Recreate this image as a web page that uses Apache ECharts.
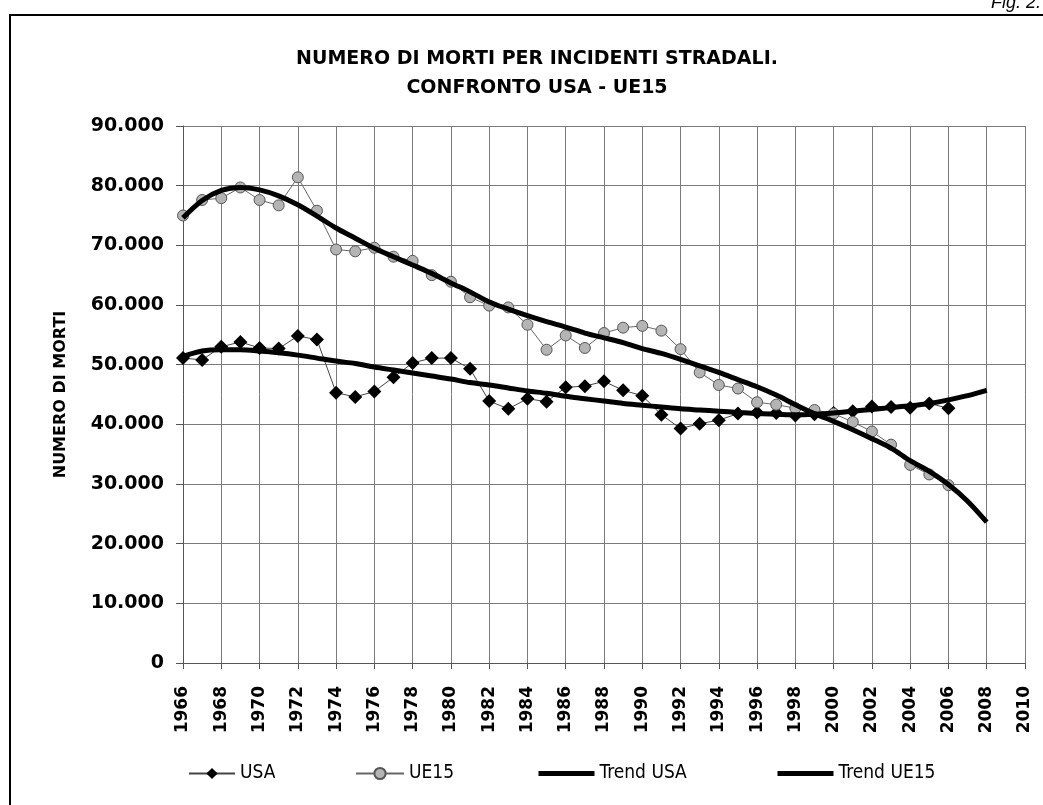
<!DOCTYPE html>
<html>
<head>
<meta charset="utf-8">
<script src="https://cdn.jsdelivr.net/npm/echarts@6/dist/echarts.min.js"></script>
<style>
  html, body { margin: 0; padding: 0; background: #fff; }
  #chartDom { width: 1043px; height: 805px; }
</style>
</head>
<body>
<div id="chartDom"></div>
<script>
// anni e valori
var years = [];
for (var y = 1966; y <= 2006; y++) years.push(y);
var trendYears = [];
for (var t = 1966; t <= 2008; t++) trendYears.push(t);

var usa = [51100, 50800, 53000, 53800, 52800, 52700, 54800, 54200, 45300, 44600,
  45500, 47900, 50300, 51100, 51100, 49300, 43900, 42600, 44300, 43800,
  46200, 46400, 47200, 45700, 44800, 41600, 39300, 40100, 40700, 41800,
  42000, 41900, 41500, 41700, 41900, 42200, 43000, 42900, 42800, 43500, 42700];

var ue15 = [75000, 77600, 77900, 79700, 77600, 76700, 81400, 75800, 69300, 69000,
  69600, 68100, 67400, 65000, 63900, 61300, 59900, 59600, 56700, 52500,
  54900, 52800, 55300, 56200, 56500, 55700, 52600, 48700, 46600, 46000,
  43700, 43300, 42700, 42400, 41800, 40400, 38800, 36600, 33200, 31600, 29800];

var trendUsa = [51400, 52300, 52500, 52500, 52300, 52000, 51600, 51100, 50600, 50200,
  49600, 49100, 48600, 48100, 47600, 47000, 46600, 46100, 45600, 45200,
  44700, 44300, 43900, 43500, 43200, 42900, 42600, 42400, 42200, 42000,
  41800, 41700, 41600, 41700, 41900, 42200, 42500, 42800, 43100, 43500,
  44100, 44800, 45700];

var trendUe15 = [74600, 77500, 79200, 79700, 79300, 78300, 76800, 74900, 72900, 71200,
  69500, 68100, 66700, 65300, 63700, 62200, 60500, 59300, 58200, 57200,
  56300, 55300, 54500, 53700, 52700, 51900, 50900, 49800, 48700, 47500,
  46300, 44900, 43300, 41800, 40500, 39100, 37600, 36000, 33900, 32100,
  29900, 27100, 23600];

function pairs(xs, vs) {
  return vs.map(function (v, i) { return [xs[i], v]; });
}

var FONT = 'DejaVu Sans';
var gridColor = '#7a7a7a';
var legendFont = {
  fontSize: 19,
  fontFamily: '"DejaVu Sans Condensed", "Liberation Sans Narrow", "DejaVu Sans"',
  color: '#000'
};

// una legenda per voce, per metterle dove stanno nell'originale
function legendAt(left, item, w) {
  return {
    bottom: 17,
    left: left,
    itemWidth: w,
    itemHeight: 14,
    itemGap: 4,
    textStyle: legendFont,
    data: [item]
  };
}

var myChart = echarts.init(document.getElementById('chartDom'));

var option = {
  backgroundColor: '#fff',
  animation: false,
  textStyle: { fontFamily: FONT, color: '#000' },
  graphic: [
    {
      type: 'polyline',
      shape: { points: [[10, 806], [10, 15], [1050, 15]] },
      style: { stroke: '#000', lineWidth: 2, fill: null }
    },
    {
      type: 'text',
      right: 2,
      top: -6,
      style: { text: 'Fig. 2.', font: 'italic 18px "Liberation Sans"', fill: '#000' }
    },
    {
      type: 'text',
      x: 537,
      y: 45,
      style: {
        text: 'NUMERO DI MORTI PER INCIDENTI STRADALI.\nCONFRONTO USA - UE15',
        font: 'bold 19px "DejaVu Sans"',
        fill: '#000',
        align: 'center',
        lineHeight: 29
      }
    }
  ],
  legend: [
    legendAt(183, 'USA', 46),
    legendAt(350, 'UE15', 48),
    legendAt(531, { name: 'Trend USA', itemStyle: { opacity: 0 }, lineStyle: { width: 5 } }, 56),
    legendAt(770, { name: 'Trend UE15', itemStyle: { opacity: 0 }, lineStyle: { width: 5 } }, 56)
  ],
  grid: { left: 183, right: 18, top: 126, bottom: 142, containLabel: false },
  xAxis: {
    type: 'value',
    min: 1966,
    max: 2010,
    interval: 2,
    axisLine: { lineStyle: { color: '#555', width: 1 } },
    axisTick: { show: true, length: 6, lineStyle: { color: '#555' } },
    splitLine: { show: true, lineStyle: { color: gridColor, width: 1 } },
    axisLabel: {
      rotate: 90,
      margin: 23,
      fontSize: 17,
      fontWeight: 'bold',
      color: '#000',
      formatter: function (v) { return String(v); }
    }
  },
  yAxis: {
    type: 'value',
    min: 0,
    max: 90000,
    interval: 10000,
    name: 'NUMERO DI MORTI',
    nameLocation: 'middle',
    nameRotate: 90,
    nameGap: 114,
    nameTextStyle: { fontSize: 16, fontWeight: 'bold', color: '#000' },
    axisLine: { show: true, lineStyle: { color: '#555', width: 1 } },
    axisTick: { show: true, length: 7, lineStyle: { color: '#555' } },
    splitLine: { show: true, lineStyle: { color: gridColor, width: 1 } },
    axisLabel: {
      margin: 19,
      fontSize: 19,
      fontWeight: 'bold',
      color: '#000',
      formatter: function (v) { return String(v).replace(/\B(?=(\d{3})+(?!\d))/g, '.'); }
    }
  },
  series: [
    {
      name: 'USA',
      type: 'line',
      data: pairs(years, usa),
      symbol: 'diamond',
      symbolSize: 14,
      itemStyle: { color: '#000' },
      lineStyle: { color: '#444', width: 1 },
      z: 3
    },
    {
      name: 'UE15',
      type: 'line',
      data: pairs(years, ue15),
      symbol: 'circle',
      symbolSize: 11,
      itemStyle: { color: '#b4b4b4', borderColor: '#555', borderWidth: 1 },
      lineStyle: { color: '#666', width: 1 },
      z: 3
    },
    {
      name: 'Trend USA',
      type: 'line',
      data: pairs(trendYears, trendUsa),
      symbol: 'none',
      smooth: 0.3,
      itemStyle: { color: '#000' },
      lineStyle: { color: '#000', width: 5 },
      z: 4
    },
    {
      name: 'Trend UE15',
      type: 'line',
      data: pairs(trendYears, trendUe15),
      symbol: 'none',
      smooth: 0.3,
      itemStyle: { color: '#000' },
      lineStyle: { color: '#000', width: 5 },
      z: 4
    }
  ]
};

myChart.setOption(option);
</script>
</body>
</html>
